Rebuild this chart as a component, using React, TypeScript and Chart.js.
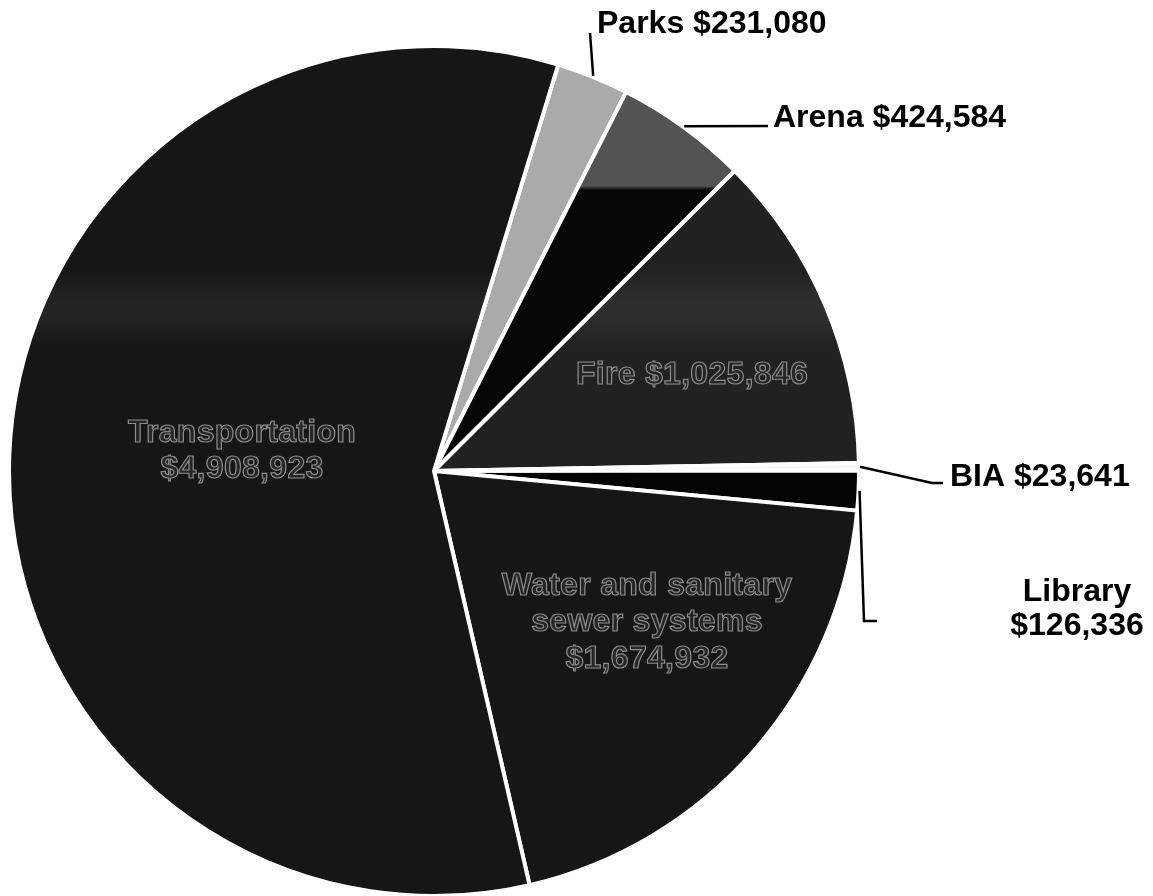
import React, { useEffect, useRef } from 'react';
import { Chart, registerables } from 'chart.js';

Chart.register(...registerables);

// ---- Data ----
const categories = ['Parks', 'Arena', 'Fire', 'BIA', 'Library', 'Water and sanitary sewer systems', 'Transportation'];
const amounts = [231080, 424584, 1025846, 23641, 126336, 1674932, 4908923];
const amountLabels = ['$231,080', '$424,584', '$1,025,846', '$23,641', '$126,336', '$1,674,932', '$4,908,923'];
const labelLines = [
  ['Parks $231,080'],
  ['Arena $424,584'],
  ['Fire $1,025,846'],
  ['BIA $23,641'],
  ['Library', '$126,336'],
  ['Water and sanitary', 'sewer systems', '$1,674,932'],
  ['Transportation', '$4,908,923'],
];

// ---- Styles / layout ----
const W = 1153;
const H = 896;
const FONT = 'bold 32px "Liberation Sans", Arial, Helvetica, sans-serif';

type LabelLayout = {
  inside: boolean;
  align: CanvasTextAlign;
  x: number;
  baselines: number[];
  leader?: number[][];
};

const labelLayout: LabelLayout[] = [
  { inside: false, align: 'left', x: 597, baselines: [33], leader: [[590, 33]] },
  { inside: false, align: 'left', x: 773, baselines: [127], leader: [[768, 126]] },
  { inside: true, align: 'center', x: 692, baselines: [384] },
  { inside: false, align: 'left', x: 950, baselines: [486], leader: [[932, 483], [943, 483]] },
  { inside: false, align: 'center', x: 1077, baselines: [601, 635], leader: [[864, 621], [877, 621]] },
  { inside: true, align: 'center', x: 647, baselines: [595, 631, 668] },
  { inside: true, align: 'center', x: 242, baselines: [442, 478] },
];

function bandGradient(c: CanvasRenderingContext2D, base: string, band: string) {
  const g = c.createLinearGradient(0, 0, 0, H);
  g.addColorStop(0, base);
  g.addColorStop(270 / H, base);
  g.addColorStop(300 / H, band);
  g.addColorStop(318 / H, band);
  g.addColorStop(345 / H, base);
  g.addColorStop(1, base);
  return g;
}

function arenaGradient(c: CanvasRenderingContext2D) {
  const g = c.createLinearGradient(0, 0, 0, H);
  g.addColorStop(0, '#555555');
  g.addColorStop(186 / H, '#525252');
  g.addColorStop(190 / H, '#060606');
  g.addColorStop(1, '#060606');
  return g;
}

const sliceColor = (i: number, c: CanvasRenderingContext2D): string | CanvasGradient => {
  switch (i) {
    case 0: return '#aaaaaa';
    case 1: return arenaGradient(c);
    case 2: return bandGradient(c, '#212121', '#2e2e2e');
    case 3: return '#f4f4f4';
    case 4: return '#040404';
    case 5: return '#161616';
    default: return bandGradient(c, '#161616', '#232323');
  }
};

const labelPlugin = {
  id: 'pieLabels',
  afterDatasetsDraw(chart: any) {
    const c: CanvasRenderingContext2D = chart.ctx;
    const meta = chart.getDatasetMeta(0);
    c.save();
    c.font = FONT;
    c.textBaseline = 'alphabetic';
    meta.data.forEach((arc: any, i: number) => {
      const p = arc.getProps(['x', 'y', 'startAngle', 'endAngle', 'outerRadius'], true);
      const lay = labelLayout[i];
      const lines = labelLines[i];
      if (lay.leader) {
        const mid = (p.startAngle + p.endAngle) / 2;
        const r = p.outerRadius + 1;
        c.beginPath();
        c.moveTo(p.x + r * Math.cos(mid), p.y + r * Math.sin(mid));
        lay.leader.forEach(pt => c.lineTo(pt[0], pt[1]));
        c.strokeStyle = '#000';
        c.lineWidth = 2.5;
        c.lineJoin = 'miter';
        c.stroke();
      }
      c.textAlign = lay.align;
      lines.forEach((t, k) => {
        const by = lay.baselines[k];
        if (lay.inside) {
          (c as any).letterSpacing = '0.3px';
          c.fillStyle = '#262626';
          c.fillText(t, lay.x, by);
          c.lineWidth = 1.2;
          c.strokeStyle = '#8c8c8c';
          c.strokeText(t, lay.x, by);
        } else {
          (c as any).letterSpacing = '0px';
          c.fillStyle = '#000';
          c.fillText(t, lay.x, by);
        }
      });
    });
    c.restore();
  },
};

export default function App() {
  const ref = useRef<HTMLCanvasElement | null>(null);
  useEffect(() => {
    if (!ref.current) return;
    const chart = new Chart(ref.current, {
      type: 'pie',
      data: {
        labels: categories.map((c, i) => c + ' ' + amountLabels[i]),
        datasets: [
          {
            data: amounts,
            backgroundColor: (ctx: any) => sliceColor(ctx.dataIndex, ctx.chart.ctx),
            borderColor: '#ffffff',
            borderWidth: 4,
            hoverOffset: 0,
          },
        ],
      },
      options: {
        responsive: false,
        animation: false,
        rotation: 17,
        radius: 425,
        layout: { padding: { left: 0, right: 285, top: 46, bottom: 0 } },
        plugins: {
          legend: { display: false },
          tooltip: { enabled: false },
        },
      },
      plugins: [labelPlugin],
    } as any);
    return () => chart.destroy();
  }, []);
  return (
    <div style={{ position: 'absolute', left: 0, top: 0, width: W, height: H, background: '#fff' }}>
      <canvas ref={ref} width={W} height={H} style={{ display: 'block' }} />
    </div>
  );
}
